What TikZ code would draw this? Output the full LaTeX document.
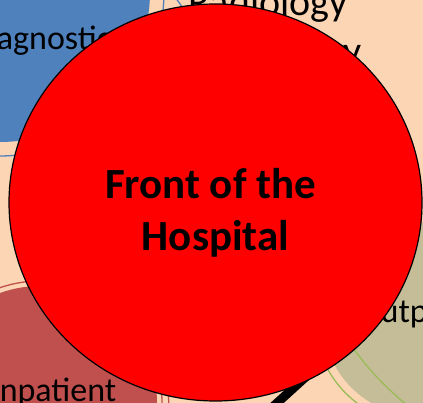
\documentclass[tikz,border=0pt]{standalone}
\usepackage{fontspec}
\setmainfont{Carlito}
\usetikzlibrary{shapes.geometric}
\definecolor{peach}{HTML}{FCD5B5}
\definecolor{diagblue}{HTML}{4F81BD}
\definecolor{inpred}{HTML}{C0504D}
\definecolor{outkhaki}{HTML}{C4BD97}
\definecolor{outgreen}{HTML}{9BBB59}
\tikzset{
  bubble/.style={circle, inner sep=0pt, minimum size=#1},
  ring/.style={line width=1.3pt},
  deptlabel/.style={font=\fontsize{34}{41}\selectfont, inner sep=0pt, anchor=base west},
  bigdept/.style={deptlabel, font=\fontsize{40}{48}\selectfont},
}
\begin{document}
\begin{tikzpicture}[x=1pt,y=-1pt]
    \useasboundingbox (0,0) rectangle (423,403);
    \clip (0,0) rectangle (423,403);
    \fill[peach] (0,0) rectangle (423,403);

    \node[bubble=300pt, fill=diagblue] (diag) at (0,-8) {};
    \node[bubble=234pt, fill=inpred] (inp) at (40,403) {};
    \node[bubble=194pt, fill=outkhaki] (outp) at (420,319) {};

    \coordinate (diagA) at (174,-4);
    \coordinate (diagB) at (186,14);
    \coordinate (inpA) at (166,380);
    \coordinate (inpB) at (169,406);
    \coordinate (outA) at (343,334);
    \coordinate (outB) at (414,411);
    \begin{scope}[ring]
        \draw[diagblue] (diag.center) circle[radius=164pt];
        \draw[diagblue] (diagA) to[bend left=6] (diagB);
        \draw[inpred] (inp.center) circle[radius=122pt];
        \draw[inpred] (inpA) to[bend left=4] (inpB);
        \draw[outgreen] (outp.center) circle[radius=105pt];
        \draw[outgreen] (outA) to[bend right=8] (outB);
    \end{scope}

    \node[deptlabel] (diaglabel) at (-32,50) {Diagnostic};
    \node[bigdept] (radlabel) at (188,16) {Radiology};
    \node[bigdept, anchor=base east] (pathlabel) at (362,65) {Pathology};
    \node[deptlabel] (outlabel) at (358,323) {Outpatient};
    \node[deptlabel] (inplabel) at (-9,401) {Inpatient};

    \coordinate (arrowtail) at (320,364);
    \coordinate (arrowtip) at (266,413);
    \draw[line width=9pt] (arrowtail) -- (arrowtip);

    \node[ellipse, draw=black, line width=1.2pt, fill=red, inner sep=0pt,
          minimum width=413pt, minimum height=397pt] (front) at (215.5,202.5) {};
    \node[font=\fontsize{43}{52}\selectfont\bfseries, align=center, inner sep=0pt]
          (frontlabel) at ([yshift=-10pt]front.center) {Front of the\kern0.23em\\Hospital};
\end{tikzpicture}
\end{document}
